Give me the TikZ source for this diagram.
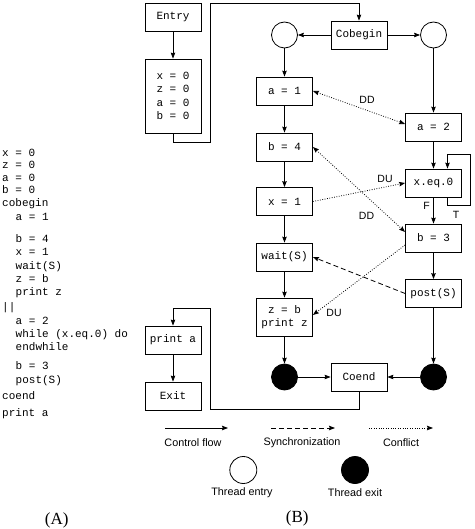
\documentclass[tikz,border=0pt]{standalone}
\usepackage{fontspec}
\setmainfont{Liberation Serif}
\setsansfont{Liberation Sans}
\setmonofont{Liberation Mono}
\usetikzlibrary{arrows.meta}
\begin{document}
\begin{tikzpicture}[x=1pt,y=-1pt,
  >={Stealth[length=6pt,width=4.5pt,inset=0.8pt]},
  box/.style={draw,line width=0.8pt,minimum width=56pt,minimum height=28pt,inner sep=0pt,align=center,font=\ttfamily\fontsize{11}{13}\selectfont},
  entryc/.style={circle,draw,line width=0.8pt,minimum size=26pt,inner sep=0pt},
  exitc/.style={circle,draw,fill=black,line width=0.8pt,minimum size=26pt,inner sep=0pt},
  flow/.style={->,line width=0.8pt},
  sync/.style={->,line width=0.8pt,dash pattern=on 5pt off 3pt},
  conf/.style={->,line width=0.8pt,dash pattern=on 0.8pt off 1.6pt},
  code/.style={anchor=west,inner sep=0pt,text height=8pt,text depth=2.5pt,font=\ttfamily\fontsize{11}{13}\selectfont},
  lab/.style={inner sep=0pt,font=\sffamily\fontsize{10.5}{12}\selectfont},
  leg/.style={inner sep=0pt,font=\sffamily\fontsize{10.8}{12}\selectfont},
  captext/.style={inner sep=0pt,font=\fontsize{17}{19}\selectfont}
]
\useasboundingbox (0,0) rectangle (474,529);

% ---------- (A) code ----------
\node[code] (c1) at (2,153.5) {x = 0};
\node[code] (c2) at (2,166) {z = 0};
\node[code] (c3) at (2,178.5) {a = 0};
\node[code] (c4) at (2,191) {b = 0};
\node[code] (c5) at (2,204) {cobegin};
\node[code] (c6) at (15.5,218) {a = 1};
\node[code] (c7) at (15.5,240) {b = 4};
\node[code] (c8) at (15.5,253) {x = 1};
\node[code] (c9) at (15.5,266.5) {wait(S)};
\node[code] (c10) at (15.5,280) {z = b};
\node[code] (c11) at (15.5,293) {print z};
\node[code] (c12) at (2,307.5) {||};
\node[code] (c13) at (15.5,321.5) {a = 2};
\node[code] (c14) at (15.5,335) {while (x.eq.0) do};
\node[code] (c15) at (15.5,347.5) {endwhile};
\node[code] (c16) at (15.5,367) {b = 3};
\node[code] (c17) at (15.5,381) {post(S)};
\node[code] (c18) at (2,396.5) {coend};
\node[code] (c19) at (2,414) {print a};
\node[captext] (capA) at (56.7,520) {(A)};

% ---------- (B) graph ----------
\node[box] (entry) at (173,17) {Entry};
\node[box,minimum height=74pt,font=\ttfamily\fontsize{11}{13.5}\selectfont] (init) at (173,96) {x = 0\\z = 0\\a = 0\\b = 0};
\node[box] (cob) at (359,35) {Cobegin};
\node[entryc] (le) at (284.5,35) {};
\node[entryc] (re) at (433.5,35) {};

\node[box] (a1) at (284.5,91) {a = 1};
\node[box] (b4) at (284.5,147) {b = 4};
\node[box] (x1) at (284.5,201.5) {x = 1};
\node[box] (wt) at (284.5,257) {wait(S)};
\node[box,minimum height=38pt,font=\ttfamily\fontsize{11}{12.7}\selectfont] (zb) at (284.5,317) {z = b\\print z};
\node[exitc] (lx) at (284.5,377) {};

\node[box] (a2) at (433.5,127) {a = 2};
\node[box] (xeq) at (433.5,183) {x.eq.0};
\node[box] (b3) at (433.5,238) {b = 3};
\node[box] (ps) at (433.5,293.5) {post(S)};
\node[exitc] (rx) at (433.5,377) {};

\node[box] (coend) at (359,377) {Coend};
\node[box] (pa) at (173,340) {print a};
\node[box] (exit) at (173,396) {Exit};

% control flow
\coordinate (j1) at (210,142);
\coordinate (j2) at (210,3);
\coordinate (j3) at (210,409);
\coordinate (j4) at (210,308);
\coordinate (l1) at (470.5,205);
\coordinate (l2) at (470.5,154);

\draw[flow] (entry) -- (init);
\draw[flow] (init.south) |- (j1) -- (j2) -| (cob.north);
\draw[flow] (cob) -- (le);
\draw[flow] (cob) -- (re);
\draw[flow] (le) -- (a1);
\draw[flow] (a1) -- (b4);
\draw[flow] (b4) -- (x1);
\draw[flow] (x1) -- (wt);
\draw[flow] (wt) -- (zb);
\draw[flow] (zb) -- (lx);
\draw[flow] (re) -- (a2);
\draw[flow] (a2) -- (xeq);
\draw[flow] (xeq) -- (b3);
\draw[flow] ([xshift=14pt]xeq.south) |- (l1) -- (l2) -| ([xshift=14pt]xeq.north);
\draw[flow] (b3) -- (ps);
\draw[flow] (ps) -- (rx);
\draw[flow] (lx) -- (coend);
\draw[flow] (rx) -- (coend);
\draw[flow] (coend.south) |- (j3) -- (j4) -| (pa.north);
\draw[flow] (pa) -- (exit);

\node[lab] (lF) at (426.5,206) {F};
\node[lab] (lT) at (456,215) {T};

% conflicts
\draw[conf,<->] (a1.east) -- ([yshift=3pt]a2.west);
\node[lab] (dd1) at (367,100) {DD};
\draw[conf,<->] (b4.east) -- ([yshift=6pt]b3.west);
\node[lab] (dd2) at (366.5,216) {DD};
\draw[conf] (x1.east) -- (xeq.west);
\node[lab] (du1) at (385,179) {DU};
\draw[conf] ([yshift=-7pt]b3.west) -- ([yshift=2pt]zb.east);
\node[lab] (du2) at (334,313) {DU};
% synchronization
\draw[sync] (ps.west) -- (wt.east);

% ---------- legend ----------
\coordinate (g1a) at (165,428);
\coordinate (g1b) at (228,428);
\coordinate (g2a) at (271,428);
\coordinate (g2b) at (335,428);
\coordinate (g3a) at (369,428);
\coordinate (g3b) at (433,428);
\draw[flow] (g1a) -- (g1b);
\draw[sync] (g2a) -- (g2b);
\draw[conf] (g3a) -- (g3b);
\node[leg] (t1) at (193,443) {Control flow};
\node[leg] (t2) at (302,443) {Synchronization};
\node[leg] (t3) at (401,443) {Conflict};
\node[entryc,minimum size=27pt] (ge) at (243.3,470) {};
\node[exitc,minimum size=27pt] (gx) at (355,470) {};
\node[leg] (t4) at (242,493) {Thread entry};
\node[leg] (t5) at (355,493) {Thread exit};
\node[captext] (capB) at (297.3,518) {(B)};
\end{tikzpicture}
\end{document}
